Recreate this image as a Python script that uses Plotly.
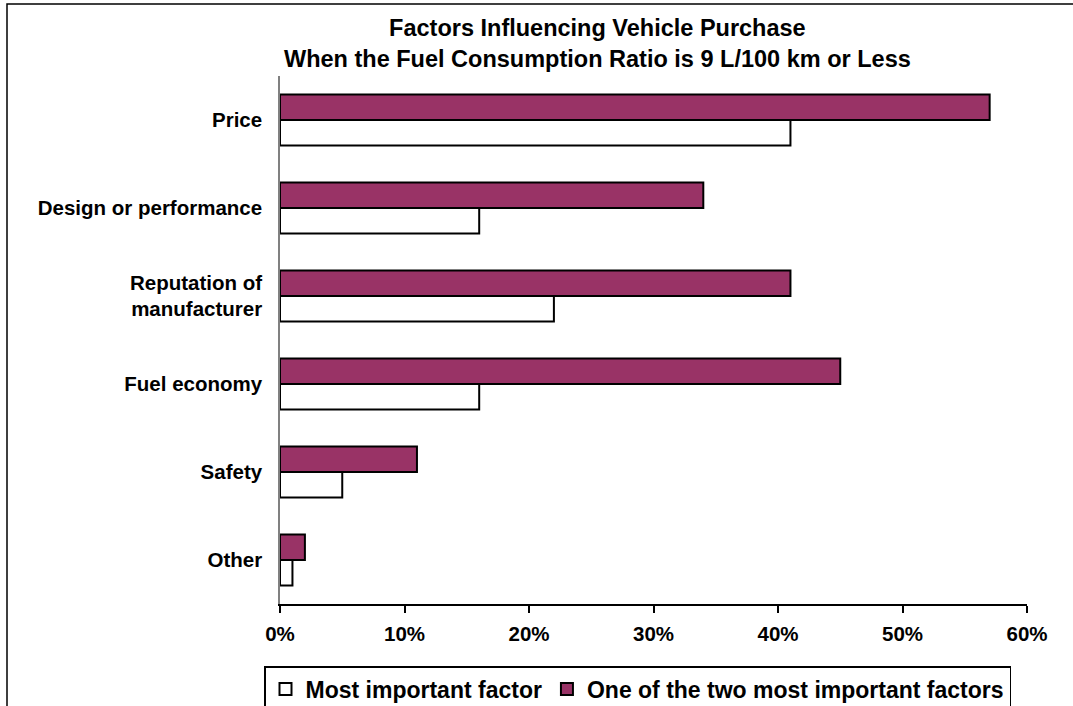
import plotly.graph_objects as go

# Survey factors, listed top to bottom as they appear on the chart
factors = [
    "Price",
    "Design or performance",
    "Reputation of<br>manufacturer",
    "Fuel economy",
    "Safety",
    "Other",
]
most_important = [41, 16, 22, 16, 5, 1]          # % naming it the single most important factor
two_most_important = [57, 34, 41, 45, 11, 2]    # % naming it one of the two most important

x_ticks = [0, 10, 20, 30, 40, 50, 60]
x_tick_labels = ["0%", "10%", "20%", "30%", "40%", "50%", "60%"]

W, H = 1073, 706
M_L, M_R, M_T, M_B = 280, 46, 76, 102
PLOT_W = W - M_L - M_R
PLOT_H = H - M_T - M_B

FONT = "Liberation Sans, Arial, sans-serif"
PLUM = "#993366"

fig = go.Figure()

# Purple bars come first so they sit on top of each pair (y axis is reversed)
fig.add_trace(go.Bar(
    y=factors, x=two_most_important, orientation="h",
    name="<b>One of the two most important factors</b>",
    marker=dict(color=PLUM, line=dict(color="black", width=2)),
    legendrank=2,
))
fig.add_trace(go.Bar(
    y=factors, x=most_important, orientation="h",
    name="<b>Most important factor</b>",
    marker=dict(color="white", line=dict(color="black", width=2)),
    legendrank=1,
))


def px_x(px):
    return (px - M_L) / PLOT_W


def px_y(py):
    return (H - M_B - py) / PLOT_H


fig.update_layout(
    width=W, height=H,
    margin=dict(l=M_L, r=M_R, t=M_T, b=M_B, autoexpand=False),
    paper_bgcolor="white", plot_bgcolor="white",
    barmode="group", bargap=0.42, bargroupgap=0,
    font=dict(family=FONT, color="black", size=20),
    xaxis=dict(
        range=[0, 60], tickvals=x_ticks, ticktext=x_tick_labels,
        showgrid=False, zeroline=False,
        showline=True, linecolor="black", linewidth=1.5,
        ticks="outside", ticklen=7, tickwidth=1.5, tickcolor="black",
        tickfont=dict(family=FONT, size=20.5, color="black", weight="bold"),
        ticklabelstandoff=4,
    ),
    yaxis=dict(
        autorange="reversed", showgrid=False, zeroline=False,
        showline=True, linecolor="#808080", linewidth=1.5,
        ticks="", tickfont=dict(family=FONT, size=20.5, color="black", weight="bold"),
        ticklabelstandoff=12,
    ),
    legend=dict(
        orientation="h", x=px_x(264), xanchor="left",
        y=px_y(666), yanchor="top",
        bordercolor="black", borderwidth=1.5, bgcolor="white",
        font=dict(family=FONT, size=23, color="black"),
        itemwidth=30, traceorder="normal",
    ),
    annotations=[
        dict(
            text="<b>Factors Influencing Vehicle Purchase<br>When the Fuel Consumption Ratio is 9 L/100 km or Less</b>",
            xref="paper", yref="paper", x=px_x(597), y=px_y(13),
            xanchor="center", yanchor="top", showarrow=False,
            font=dict(family=FONT, size=23.5, color="black"),
        ),
    ],
    shapes=[
        # outer chart frame, running past the right and bottom edges
        dict(type="rect", xref="paper", yref="paper",
             x0=px_x(7), x1=px_x(1200), y0=px_y(800), y1=px_y(4),
             line=dict(color="black", width=1.5), fillcolor="rgba(0,0,0,0)",
             layer="below"),
    ],
)

fig.write_html("out.html")
